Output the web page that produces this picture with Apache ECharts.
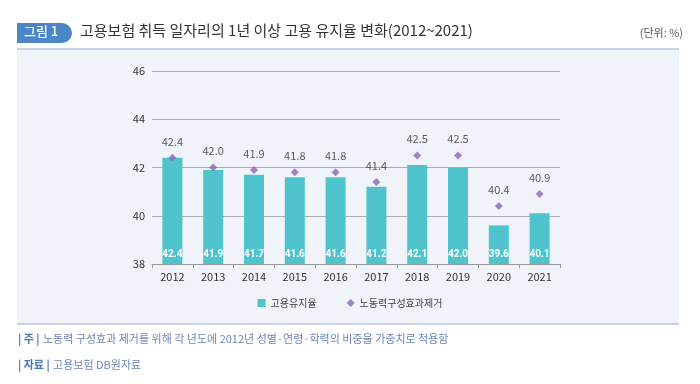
<!DOCTYPE html>
<html><head><meta charset="utf-8">
<script src="https://cdn.jsdelivr.net/npm/echarts@6/dist/echarts.min.js"></script>
<style>html,body{margin:0;padding:0;background:#fff}#c{width:700px;height:384px}</style>
</head><body><div id="c"></div>
<script>
const categories = ['2012','2013','2014','2015','2016','2017','2018','2019','2020','2021'];
const retentionRate = [42.4,41.9,41.7,41.6,41.6,41.2,42.1,42.0,39.6,40.1];
const adjustedRate = [42.4,42.0,41.9,41.8,41.8,41.4,42.5,42.5,40.4,40.9];
const yTicks = [38,40,42,44,46];
const seriesNames = ['고용유지율','노동력구성효과제거'];

const FONT = '"Noto Sans CJK KR","Noto Sans",sans-serif';
const chart = echarts.init(document.getElementById('c'));
chart.setOption({
  backgroundColor: '#fff',
  textStyle: {fontFamily: FONT},
  graphic: [
    {type:'rect', z:-10, shape:{x:17,y:49,width:662,height:275}, style:{fill:'#f0f3fa'}},
    {type:'rect', z:-9, shape:{x:17,y:48,width:662,height:2}, style:{fill:'#c9d3e6'}},
    {type:'rect', z:-9, shape:{x:17,y:323,width:662,height:2}, style:{fill:'#c9d3e6'}},
    {type:'rect', shape:{x:17,y:23,width:55,height:20,r:[0,10,10,0]}, style:{fill:'#4a86c8'}},
    {type:'text', left:24, top:25, style:{text:'그림 1', fill:'#fff', font:'500 13px '+FONT}},
    {type:'text', left:80, top:23, style:{text:'고용보험 취득 일자리의 1년 이상 고용 유지율 변화(2012~2021)', fill:'#333', font:'15px '+FONT}},
    {type:'text', right:17, top:27, style:{text:'(단위: %)', fill:'#555', font:'11px '+FONT, textAlign:'right'}},
    {type:'text', left:18, top:333, style:{rich:{b:{fill:'#4a78bd', font:'bold 11px '+FONT}, n:{fill:'#6c86b8', font:'11px '+FONT}}, text:'{b|| 주 |} {n|노동력 구성효과 제거를 위해 각 년도에 2012년 성별·연령·학력의 비중을 가중치로 적용함}'}},
    {type:'text', left:18, top:359, style:{rich:{b:{fill:'#4a78bd', font:'bold 11px '+FONT}, n:{fill:'#6c86b8', font:'11px '+FONT}}, text:'{b|| 자료 |} {n|고용보험 DB원자료}'}}
  ],
  legend: {
    top: 293, left: 'center', itemGap: 30, itemWidth: 8, itemHeight: 8,
    textStyle: {fontSize: 10, color: '#444', fontFamily: FONT},
    data: [{name: seriesNames[0], icon: 'rect'}, {name: seriesNames[1], icon: 'diamond'}]
  },
  grid: {left: 152, right: 140, top: 71, bottom: 120},
  xAxis: {
    type: 'category', data: categories,
    axisLine: {lineStyle: {color: '#999'}},
    axisTick: {show: true, alignWithLabel: false, length: 4, lineStyle: {color: '#999'}},
    axisLabel: {color: '#333', fontSize: 11, margin: 7}
  },
  yAxis: {
    type: 'value', min: yTicks[0], max: yTicks[yTicks.length-1], interval: 2,
    axisLine: {show: false}, axisTick: {show: false},
    axisLabel: {color: '#333', fontSize: 11, margin: 7},
    splitLine: {lineStyle: {color: '#a9adb5', width: 1}}
  },
  series: [
    {
      name: seriesNames[0], type: 'bar', data: retentionRate, barWidth: 20,
      itemStyle: {color: '#4fc4cc'},
      label: {show: true, position: 'insideBottom', distance: 5, color: '#fff', fontWeight: 'bold', fontSize: 10, fontFamily: 'Roboto, sans-serif', formatter: p => p.value.toFixed(1)}
    },
    {
      name: seriesNames[1], type: 'scatter', data: adjustedRate, symbol: 'diamond', symbolSize: 8,
      itemStyle: {color: '#8c68b4'},
      label: {show: true, position: 'top', distance: 7, color: '#333', fontSize: 11, formatter: p => p.value.toFixed(1)}
    }
  ]
});
</script></body></html>
